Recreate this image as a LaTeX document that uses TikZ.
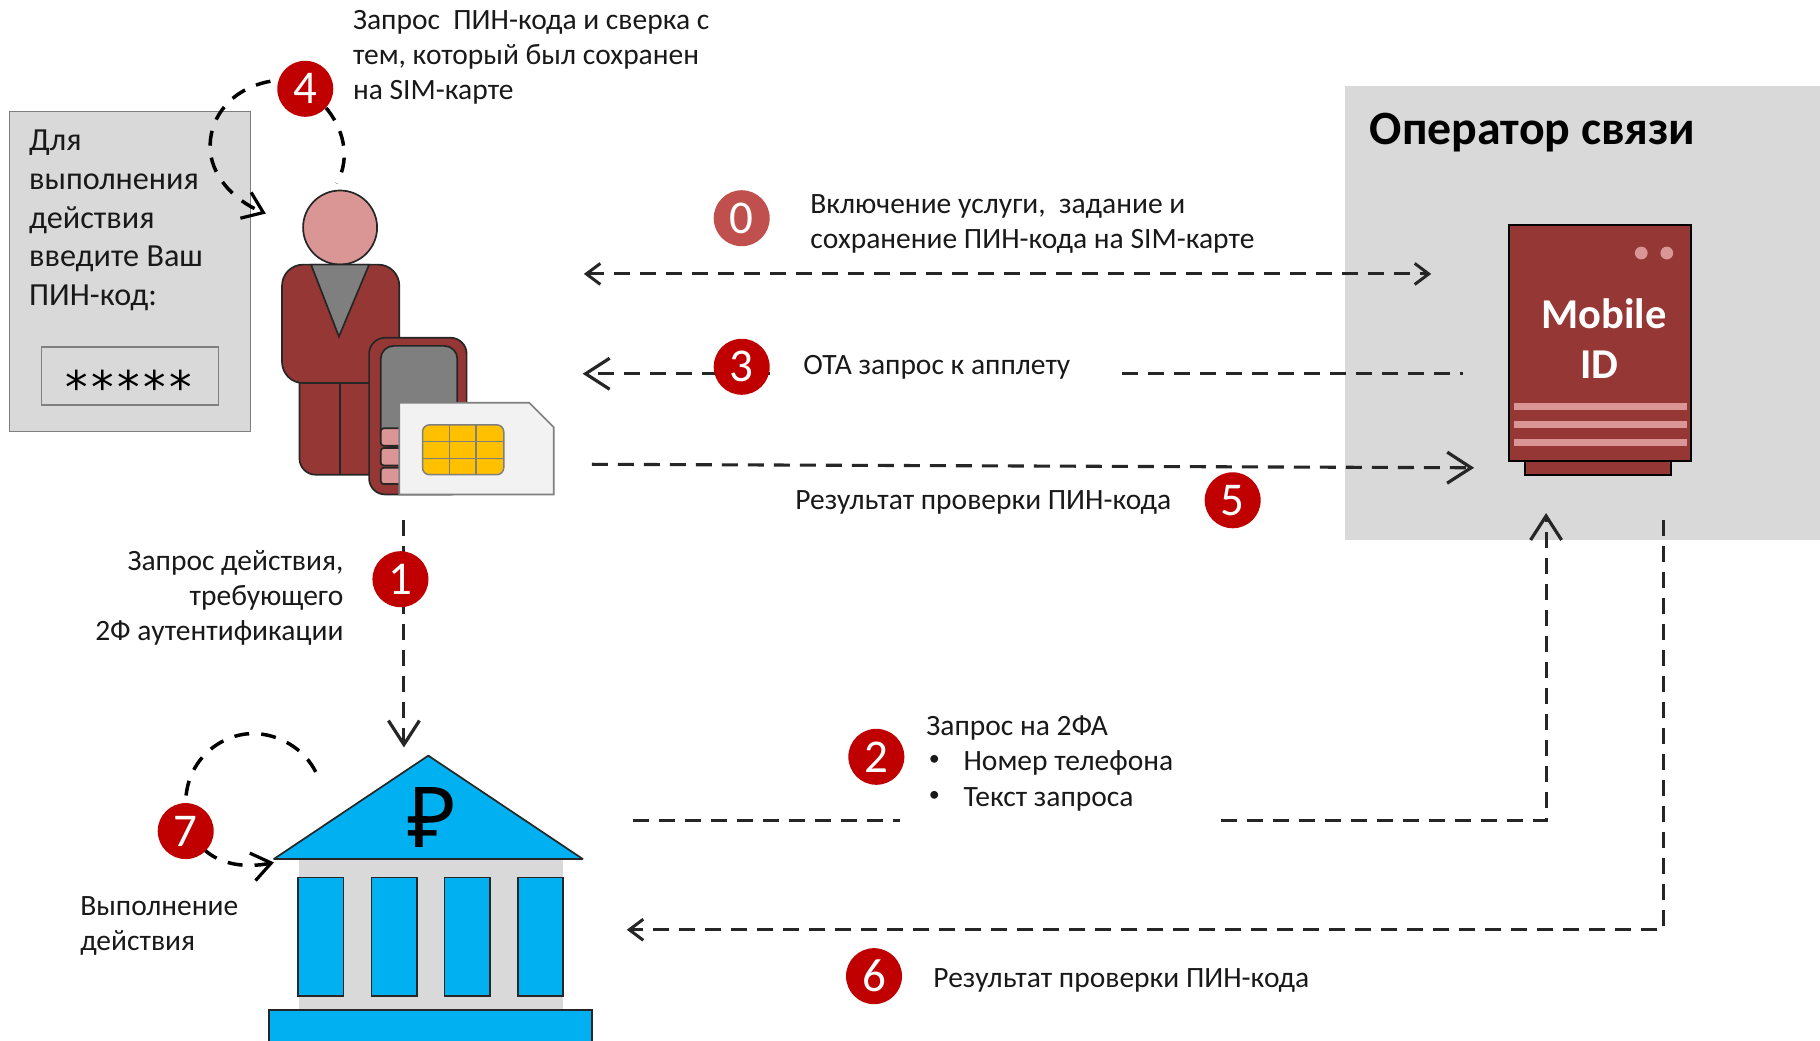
\documentclass[tikz,border=0pt]{standalone}
\usepackage{fontspec}
\setmainfont{Carlito}
\newfontfamily\rublefont{Noto Sans}
\newfontfamily\starfont[LetterSpace=8]{DejaVu Sans}
\usetikzlibrary{arrows.meta,calc}
\definecolor{panelgray}{HTML}{D9D9D9}
\definecolor{wine}{HTML}{953735}
\definecolor{rosy}{HTML}{D99694}
\definecolor{badgered}{HTML}{C00000}
\definecolor{badgesoft}{HTML}{C0504D}
\definecolor{bankblue}{HTML}{00B0F0}
\definecolor{midgray}{HTML}{7F7F7F}
\definecolor{ink}{HTML}{262626}
\definecolor{chipgold}{HTML}{FFC000}
\tikzset{
  x=1.1607pt,y=-1.1607pt,
  badge/.style={circle,fill=badgered,text=white,minimum size=56pt,inner sep=0pt,font=\fontsize{47}{47}\selectfont},
  flow/.style={draw=ink,line width=3.1pt,dash pattern=on 16pt off 10pt},
  loopflow/.style={draw=black,line width=3.5pt,dash pattern=on 15pt off 12pt},
  tipS/.style={-{Straight Barb[length=14pt,width=21pt,line width=3pt]}},
  tipM/.style={-{Straight Barb[length=19pt,width=28pt,line width=3.2pt]}},
  tipL/.style={-{Straight Barb[length=24pt,width=31pt,line width=3.2pt]}},
  tipA/.style={{Straight Barb[length=14pt,width=21pt,line width=3pt]}-{Straight Barb[length=14pt,width=21pt,line width=3pt]}},
  label/.style={anchor=west,inner sep=0pt,align=left,text=black!90,font=\fontsize{29.5}{35}\selectfont},
  part/.style={draw=ink,line width=1.7pt},
  tower/.style={part,fill=bankblue},
  stripe/.style={draw=none,fill=rosy}
}
\begin{document}
\begin{tikzpicture}
\useasboundingbox (0,0) rectangle (1568,896);
\fill[white] (0,0) rectangle (1568,896);
% operator zone
\fill[panelgray] (1159,74) rectangle (1568,465);
\node[anchor=west,inner sep=0pt,font=\fontsize{47.8}{48}\selectfont\bfseries] (optitle) at (1180,114) {Оператор связи};
% prompt panel
\node[draw=midgray,line width=1.3pt,fill=panelgray,minimum width=241.4pt,minimum height=320pt,inner sep=0pt] (panel) at (112,234) {};
\node[label,font=\fontsize{32.2}{38.7}\selectfont] (paneltext) at (25,190) {Для\\выполнения\\действия\\введите Ваш\\ПИН-код:};
\node[draw=midgray,line width=1.2pt,minimum width=176.5pt,minimum height=58pt,inner sep=0pt] (pinbox) at (112,324) {};
\node[inner sep=0pt,font=\starfont\fontsize{45}{45}\selectfont] (pinstars) at (111,333) {*****};
% server
\draw[draw=black,line width=2pt,fill=wine] (1314,397) rectangle (1440,409);
\draw[draw=black,line width=2pt,fill=wine] (1300,194) rectangle (1457,397);
\fill[rosy] (1414,218) circle (5.5);
\fill[rosy] (1436,218) circle (5.5);
\fill[stripe] (1304,347.5) rectangle (1453,353);
\fill[stripe] (1304,363) rectangle (1453,369);
\fill[stripe] (1304,378.5) rectangle (1453,384);
\node[inner sep=0pt,text=white,font=\fontsize{42.5}{43}\selectfont\bfseries] (mobile) at (1382,270) {Mobile};
\node[inner sep=0pt,text=white,font=\fontsize{42.5}{43}\selectfont\bfseries] (idtext) at (1378,314) {ID};
% person
\node[part,circle,fill=rosy,minimum size=74pt,inner sep=0pt] (head) at (293,196) {};
\draw[part,fill=wine] (258,328) -- (258,395) arc[start angle=180,end angle=90,radius=14] -- (325,409) -- (325,328) -- cycle;
\draw[part] (293,328) -- (293,409);
\draw[part,fill=wine,rounded corners=21pt] (243,228) rectangle (344,330);
\draw[part,fill=midgray] (268,228) -- (318,228) -- (292,290) -- cycle;
% phone
\draw[part,fill=wine,rounded corners=16pt] (318,291) rectangle (402,426);
\draw[part,fill=midgray,rounded corners=13pt] (328,298) rectangle (394,385);
\draw[part,fill=rosy,rounded corners=3pt] (328,369) rectangle (350,384);
\draw[part,fill=rosy,rounded corners=3pt] (328,386) rectangle (350,401);
\draw[part,fill=rosy,rounded corners=3pt] (328,403) rectangle (350,417);
% sim
\draw[draw=midgray,line width=1.7pt,fill=black!5] (344,347) -- (456,347) -- (477,368) -- (477,426) -- (344,426) -- cycle;
\draw[draw=midgray,line width=1.5pt,fill=chipgold,rounded corners=7pt] (364,366) rectangle (434,409);
\draw[draw=midgray,line width=1.3pt] (387,366) -- (387,409) (410,366) -- (410,409) (364,380.5) -- (434,380.5) (364,395) -- (434,395);
% bank
\fill[panelgray] (258,740) rectangle (485,871);
\draw[tower,line join=round] (236,740) -- (369,651) -- (502,740) -- cycle;
\node[inner sep=0pt,font=\rublefont\fontsize{84}{84}\selectfont] (ruble) at (372,704) {₽};
\draw[tower] (257,756) rectangle (296,858);
\draw[tower] (320,756) rectangle (359,858);
\draw[tower] (383,756) rectangle (422,858);
\draw[tower] (446,756) rectangle (485,858);
\draw[tower] (232,870) rectangle (510,900);
% connector ends
\coordinate (c0a) at (503,236); \coordinate (c0b) at (1233,236);
\coordinate (c3a) at (1260,322); \coordinate (c3b) at (967,322);
\coordinate (c3c) at (663,322); \coordinate (c3d) at (502,322);
\coordinate (c5a) at (510,400); \coordinate (c5b) at (1270,403);
\coordinate (c1a) at (348,448); \coordinate (c1b) at (348,644);
\coordinate (c2a) at (545,707); \coordinate (c2b) at (775,707);
\coordinate (c2c) at (1052,707); \coordinate (c2d) at (1332,707); \coordinate (c2e) at (1332,442);
\coordinate (c6a) at (1433,448); \coordinate (c6b) at (1433,801); \coordinate (c6c) at (540,801);
\coordinate (c4a) at (229,184); \coordinate (c4b) at (290,158); \coordinate (c4c) at (233,70); \coordinate (c4d) at (281,93);
\coordinate (c7a) at (236,743); \coordinate (c7b) at (272,665); \coordinate (c7c) at (160,692); \coordinate (c7d) at (176,732);
% connectors
\draw[flow,tipA] (c0a) -- (c0b);
\draw[flow] (c3b) -- (c3a);
\draw[flow,tipL] (c3c) -- (c3d);
\draw[flow,tipL] (c5a) -- (c5b);
\draw[flow,tipL] (c1a) -- (c1b);
\draw[flow] (c2a) -- (c2b);
\draw[flow,tipL] (c2c) -- (c2d) -- (c2e);
\draw[flow,tipS] (c6a) -- (c6b) -- (c6c);
\draw[loopflow,tipM] (c4c) .. controls (200,76) and (181,100) .. (181,126) .. controls (181,150) and (200,172) .. (c4a);
\draw[loopflow] (c4d) .. controls (295,110) and (303,135) .. (c4b);
\draw[loopflow] (c7b) .. controls (262,645) and (240,632) .. (218,632) .. controls (190,632) and (160,655) .. (c7c);
\draw[loopflow,tipM] (c7d) .. controls (190,745) and (212,748) .. (c7a);
% badges above lines
\node[badge,fill=badgesoft] (b0) at (639,188) {0};
\node[badge] (b1) at (345,499) {1};
\node[badge] (b2) at (755,652) {2};
\node[badge] (b3) at (639,316) {3};
\node[badge] (b4) at (263,76.5) {4};
\node[badge] (b5) at (1062,431) {5};
\node[badge] (b6) at (753,841) {6};
\node[badge] (b7) at (160,716) {7};
% labels
\node[label] (t4) at (304,49) {Запрос\ \ ПИН-кода и сверка с\\тем, который был сохранен\\на SIM-карте};
\node[label] (t0) at (698,193) {Включение услуги,\ \ задание и\\сохранение ПИН-кода на SIM-карте};
\node[label] (t3) at (692,316.5) {ОТА запрос к апплету};
\node[label] (t5) at (685,432.5) {Результат проверки ПИН-кода};
\node[label,align=right,anchor=east] (t1) at (296,515) {Запрос действия,\\требующего\\2Ф аутентификации};
\node[label] (t2a) at (798,627.5) {Запрос на 2ФА};
\node[label,font=\fontsize{22}{22}\selectfont] (t2d) at (800,655) {•};
\node[label,font=\fontsize{22}{22}\selectfont] (t2e) at (800,686) {•};
\node[label] (t2b) at (830,657.5) {Номер телефона};
\node[label] (t2c) at (830,688.5) {Текст запроса};
\node[label] (t6) at (804,844.5) {Результат проверки ПИН-кода};
\node[label] (t7) at (69,798) {Выполнение\\действия};
\end{tikzpicture}
\end{document}
